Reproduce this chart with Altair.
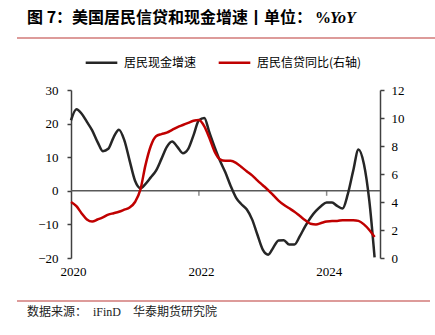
import altair as alt
import pandas as pd

# Monthly observations, Jan 2020 .. Oct 2024
months = pd.date_range("2020-01-01", periods=58, freq="MS")

cash_growth = [
    21.0, 24.3, 23.0, 20.5, 18.0, 14.5, 11.8, 12.5, 16.0, 18.2,
    15.0, 9.0, 3.0, 0.8, 2.0, 4.0, 6.0, 9.5, 13.0, 14.7,
    13.0, 11.2, 12.5, 16.5, 21.0, 21.7, 17.5, 13.0, 9.0, 5.5,
    1.5, -2.0, -4.0, -5.5, -8.5, -13.0, -17.5, -19.0, -17.0, -14.8,
    -14.7, -16.0, -16.0, -13.5, -10.5, -8.0, -6.0, -4.5, -3.5, -3.5,
    -4.5, -5.3, -1.0, 6.0, 12.3, 8.0, -3.0, -19.8,
]

credit_growth = [
    4.0, 3.7, 3.2, 2.75, 2.6, 2.75, 2.9, 3.1, 3.2, 3.3,
    3.45, 3.6, 4.0, 4.9, 6.6, 8.0, 8.7, 8.85, 8.95, 9.15,
    9.35, 9.5, 9.65, 9.8, 9.85, 9.4, 8.6, 7.6, 7.05, 6.95,
    6.95, 6.8, 6.5, 6.2, 5.9, 5.55, 5.2, 4.85, 4.5, 4.1,
    3.8, 3.55, 3.3, 3.0, 2.7, 2.45, 2.4, 2.5, 2.6, 2.65,
    2.65, 2.7, 2.7, 2.7, 2.65, 2.4, 2.0, 1.5,
]

series_names = ["居民现金增速", "居民信贷同比(右轴)"]
series_colors = ["#262626", "#c00000"]
left_ticks = [-20, -10, 0, 10, 20, 30]
right_ticks = [0, 2, 4, 6, 8, 10, 12]
year_labels = [2020, 2022, 2024]
zero_tick_dates = ["2022-01-01", "2024-01-01"]

df = pd.DataFrame({"date": months, "cash": cash_growth, "credit": credit_growth})
tick_df = pd.DataFrame({"date": pd.to_datetime(zero_tick_dates), "z": [0, 0]})
zero_df = pd.DataFrame({"z": [0]})

W, H = 309, 168
AX = "#404040"
SERIF = "Liberation Serif"
CJK = "Noto Sans CJK SC"

x_scale = alt.Scale(domain=[alt.DateTime(year=2020, month=1, date=1),
                            alt.DateTime(year=2024, month=11, date=1)])
x_enc = alt.X(
    "date:T",
    scale=x_scale,
    axis=alt.Axis(
        values=[alt.DateTime(year=y, month=1, date=1) for y in year_labels],
        format="%Y", ticks=False, domain=False, grid=False,
        labelFont=SERIF, labelFontSize=13, labelColor="#000",
        labelPadding=7, labelFlush=False, labelOffset=2,
    ),
    title=None,
)

left_scale = alt.Scale(domain=[-20, 30], nice=False, zero=False)
right_scale = alt.Scale(domain=[0, 12], nice=False)

color_scale = alt.Scale(domain=series_names, range=series_colors)
legend = alt.Legend(
    orient="none", legendX=13, legendY=-45, direction="horizontal",
    title=None, symbolType="stroke", symbolSize=1000, symbolStrokeWidth=2.5,
    labelFont=CJK, labelFontSize=12, labelColor="#000",
    columnPadding=16, labelOffset=5, padding=0,
)

base = alt.Chart(df)

zero_line = alt.Chart(zero_df).mark_rule(color="#595959", strokeWidth=1.5).encode(
    y=alt.Y("z:Q", scale=left_scale, axis=None)
)

zero_ticks = alt.Chart(tick_df).mark_tick(
    orient="vertical", size=5, thickness=1.5, color="#595959", yOffset=2.5
).encode(
    x=x_enc,
    y=alt.Y("z:Q", scale=left_scale, axis=None),
)

black = base.transform_calculate(series="'居民现金增速'").mark_line(
    interpolate="monotone", strokeWidth=2.5
).encode(
    x=x_enc,
    y=alt.Y("cash:Q", scale=left_scale, title=None,
            axis=alt.Axis(orient="left", values=left_ticks, grid=False,
                          domainColor=AX, domainWidth=1.5, tickColor=AX,
                          tickWidth=1.5, tickSize=4, labelFont=SERIF,
                          labelFontSize=13, labelColor="#000", labelPadding=9)),
    color=alt.Color("series:N", scale=color_scale, legend=legend),
)

red = base.transform_calculate(series="'居民信贷同比(右轴)'").mark_line(
    interpolate="monotone", strokeWidth=2.5
).encode(
    x=x_enc,
    y=alt.Y("credit:Q", scale=right_scale, title=None,
            axis=alt.Axis(orient="right", values=right_ticks, grid=False,
                          domainColor=AX, domainWidth=1.5, tickColor=AX,
                          tickWidth=1.5, tickSize=4, labelFont=SERIF,
                          labelFontSize=13, labelColor="#000", labelPadding=7)),
    color=alt.Color("series:N", scale=color_scale, legend=legend),
)


def label(text, x, y, font, size, weight="normal", style="normal", color="#000"):
    return alt.Chart(pd.DataFrame({"t": [text]})).mark_text(
        align="left", baseline="middle", font=font, fontSize=size,
        fontWeight=weight, fontStyle=style, color=color,
    ).encode(x=alt.value(x), y=alt.value(y), text="t:N")


title_a = label("图 7：美国居民信贷和现金增速丨单位：", -44, -72, CJK, 16, weight="bold")
title_b = label("%", 244, -72, SERIF, 16, weight="bold")
title_c = label("YoY", 259, -72, SERIF, 16, weight="bold", style="italic")

sep_color = "#d27a78"
top_rule = alt.Chart(zero_df).mark_rule(color=sep_color, strokeWidth=1.3).encode(
    x=alt.value(-54), x2=alt.value(364), y=alt.value(-52)
)
bottom_rule = alt.Chart(zero_df).mark_rule(color=sep_color, strokeWidth=1.3).encode(
    x=alt.value(-54), x2=alt.value(359), y=alt.value(211)
)

src_a = label("数据来源：", -44, 222, CJK, 12, color="#222")
src_b = label("iFinD", 22, 222, SERIF, 12, color="#222")
src_c = label("华泰期货研究院", 62, 222, CJK, 12, color="#222")

chart = alt.layer(
    zero_line, zero_ticks, black, red,
    title_a, title_b, title_c, top_rule, bottom_rule, src_a, src_b, src_c,
).resolve_scale(
    y="independent"
).properties(
    width=W, height=H,
    padding={"left": 71, "top": 90, "right": 55, "bottom": 77},
    autosize=alt.AutoSizeParams(type="none"),
    background="white",
).configure_view(stroke=None)

chart.save("out.html", embed_options={"renderer": "svg", "actions": False})
